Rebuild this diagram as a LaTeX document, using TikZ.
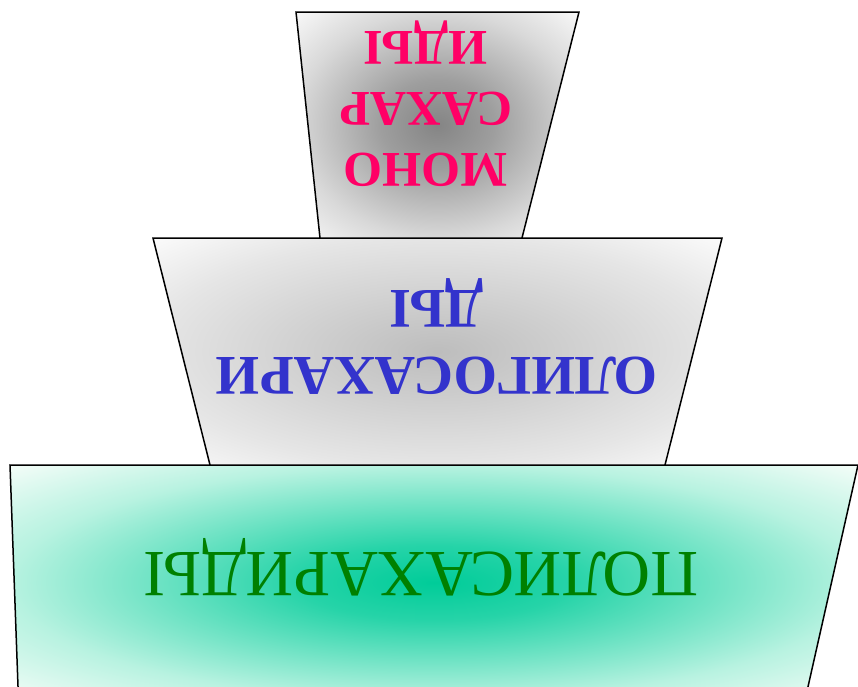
\documentclass[tikz,border=0pt]{standalone}
\usepackage{fontspec}
\setmainfont{Liberation Serif}
\usetikzlibrary{positioning}

\definecolor{monopink}{HTML}{FF0066}
\definecolor{oligoblue}{HTML}{3333CC}
\definecolor{polygreen}{HTML}{008000}

\pgfdeclareradialshading{monoshade}{\pgfpoint{0bp}{0bp}}{rgb(0bp)=(0.52,0.52,0.52); rgb(10bp)=(0.62,0.62,0.62); rgb(25bp)=(0.85,0.85,0.85); rgb(35bp)=(0.97,0.97,0.97); rgb(50bp)=(1,1,1)}
\pgfdeclareradialshading{oligoshade}{\pgfpoint{0bp}{0bp}}{rgb(0bp)=(0.74,0.74,0.74); rgb(25bp)=(0.9,0.9,0.9); rgb(35bp)=(0.98,0.98,0.98); rgb(50bp)=(1,1,1)}
\pgfdeclareradialshading{polyshade}{\pgfpoint{0bp}{0bp}}{rgb(0bp)=(0,0.8,0.6); rgb(8bp)=(0.15,0.83,0.66); rgb(25bp)=(0.72,0.95,0.88); rgb(35bp)=(0.95,0.99,0.97); rgb(50bp)=(1,1,1)}

\begin{document}
\begin{tikzpicture}[x=1pt,y=-1pt,
    tier/.style={line width=1.5pt, line join=miter},
    label/.style={rotate=180, align=center, inner sep=0pt}]
    \useasboundingbox (0,0) rectangle (858,686);

    % mark corners of the tiers
        \coordinate (m1) at (296,12);  \coordinate (m2) at (579,12);
        \coordinate (m3) at (522,238); \coordinate (m4) at (320,238);
        \coordinate (o1) at (153,238); \coordinate (o2) at (722,238);
        \coordinate (o3) at (665,465); \coordinate (o4) at (210,465);
        \coordinate (p1) at (10,465);  \coordinate (p2) at (858,465);
        \coordinate (p3) at (805,700); \coordinate (p4) at (18.5,700);

    % draw tiers, bottom one first
        \shadedraw[tier, shading=polyshade] (p1) -- (p2) -- (p3) -- (p4) -- cycle;
        \shadedraw[tier, shading=oligoshade] (o1) -- (o2) -- (o3) -- (o4) -- cycle;
        \shadedraw[tier, shading=monoshade] (m1) -- (m2) -- (m3) -- (m4) -- cycle;

    % upside down labels
    \node[label, text=monopink, font=\bfseries\fontsize{50}{61}\selectfont] (mono) at (426,104) {МОНО\\САХАР\\ИДЫ};
    \node[label, text=oligoblue, font=\bfseries\fontsize{56}{67}\selectfont] (oligo) at (437,337) {ОЛИГОСАХАРИ\\ДЫ};
    \node[label, text=polygreen, font=\fontsize{66}{79}\selectfont] (poly) at (421,567) {ПОЛИСАХАРИДЫ};

\end{tikzpicture}
\end{document}
